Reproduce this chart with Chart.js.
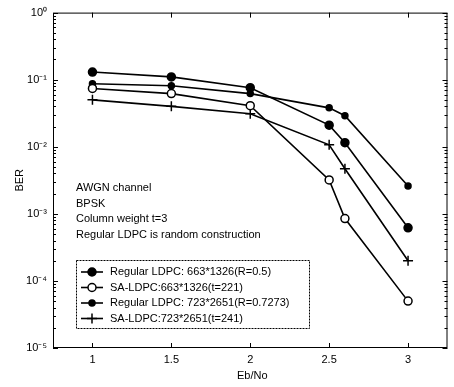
<!DOCTYPE html>
<html>
<head>
<meta charset="utf-8">
<script src="https://cdn.jsdelivr.net/npm/chart.js@4/dist/chart.umd.min.js"></script>
<style>
  html, body { margin: 0; padding: 0; background: #fff; }
  #wrap { width: 454px; height: 387px; }
</style>
</head>
<body>
<div id="wrap"><canvas id="ber"></canvas></div>
<script>
// Eb/No points and BER per curve
const ebno = [1, 1.5, 2, 2.5, 2.6, 3];
const berReg663 = [0.13, 0.11, 0.076, 0.021, 0.0115, 0.00062];
const berSA663 = [0.074, 0.062, 0.041, 0.0032, 0.00085, 0.00005];
const berReg723 = [0.087, 0.081, 0.062, 0.038, 0.029, 0.0026];
const berSA723 = [0.05, 0.04, 0.031, 0.0107, 0.0047, 0.0002];

const seriesNames = [
  "Regular LDPC: 663*1326(R=0.5)",
  "SA-LDPC:663*1326(t=221)",
  "Regular LDPC: 723*2651(R=0.7273)",
  "SA-LDPC:723*2651(t=241)"
];
const xTicks = [1, 1.5, 2, 2.5, 3];
const yTicks = [1e-5, 1e-4, 1e-3, 1e-2, 1e-1, 1];
const notes = ["AWGN channel", "BPSK", "Column weight t=3", "Regular LDPC is random construction"];

const FONT = "Liberation Sans";
const sup = { "0": "\u2070", "1": "\u00b9", "2": "\u00b2", "3": "\u00b3", "4": "\u2074", "5": "\u2075", "-": "\u207b" };
const toSup = (s) => s.split("").map((c) => sup[c] || c).join("");

const pts = (ys) => ebno.map((x, i) => ({ x: x, y: ys[i] }));

const styles = [
  { pointStyle: "circle", pointRadius: 4, pointBackgroundColor: "#000" },
  { pointStyle: "circle", pointRadius: 4, pointBackgroundColor: "#fff" },
  { pointStyle: "circle", pointRadius: 3, pointBackgroundColor: "#000" },
  { pointStyle: "cross", pointRadius: 5, pointBackgroundColor: "#000" }
];
const values = [berReg663, berSA663, berReg723, berSA723];

const datasets = values.map((v, i) => ({
  label: seriesNames[i],
  data: pts(v),
  borderColor: "#000",
  borderWidth: 1.6,
  pointBorderColor: "#000",
  pointBorderWidth: 1.5,
  tension: 0,
  ...styles[i]
}));

// box, inward ticks, axis titles, notes and legend
const decor = {
  id: "decor",
  afterDraw(chart) {
    const ctx = chart.ctx;
    const a = chart.chartArea;
    const xs = chart.scales.x, ys = chart.scales.y;
    ctx.save();
    ctx.strokeStyle = "#000";
    ctx.lineWidth = 1;
    ctx.strokeRect(a.left + 0.5, a.top + 0.5, a.right - a.left - 1, a.bottom - a.top - 1);

    ctx.beginPath();
    xTicks.forEach((t) => {
      const px = Math.round(xs.getPixelForValue(t)) + 0.5;
      ctx.moveTo(px, a.bottom); ctx.lineTo(px, a.bottom - 5);
      ctx.moveTo(px, a.top); ctx.lineTo(px, a.top + 5);
    });
    for (let d = -5; d <= 0; d++) {
      for (let k = 1; k <= 9; k++) {
        const v = k * Math.pow(10, d);
        if (v > 1) break;
        const py = Math.round(ys.getPixelForValue(v)) + 0.5;
        const len = k === 1 ? 5 : 3;
        ctx.moveTo(a.left, py); ctx.lineTo(a.left + len, py);
        ctx.moveTo(a.right, py); ctx.lineTo(a.right - len, py);
      }
    }
    ctx.stroke();

    ctx.fillStyle = "#000";
    ctx.font = "11px '" + FONT + "'";
    ctx.textAlign = "center";
    ctx.textBaseline = "middle";
    ctx.fillText("Eb/No", (a.left + a.right) / 2 + 2, 376);
    ctx.save();
    ctx.translate(20, (a.top + a.bottom) / 2);
    ctx.rotate(-Math.PI / 2);
    ctx.fillText("BER", 0, 0);
    ctx.restore();

    ctx.textAlign = "left";
    notes.forEach((n, i) => ctx.fillText(n, 76, 188 + i * 15.5));

    // legend
    const lx = 76, ly = 260, lw = 233, lh = 68;
    ctx.fillStyle = "#fff";
    ctx.fillRect(lx, ly, lw, lh);
    ctx.setLineDash([2, 1]);
    ctx.strokeStyle = "#000";
    ctx.strokeRect(lx + 0.5, ly + 0.5, lw, lh);
    ctx.setLineDash([]);
    const drawPoint = Chart.helpers && Chart.helpers.drawPoint;
    datasets.forEach((ds, i) => {
      const y = ly + 12 + i * 15.5;
      ctx.lineWidth = 1.6;
      ctx.strokeStyle = "#000";
      ctx.beginPath();
      ctx.moveTo(lx + 5, y); ctx.lineTo(lx + 27, y);
      ctx.stroke();
      ctx.fillStyle = ds.pointBackgroundColor;
      ctx.lineWidth = 1.5;
      if (drawPoint) {
        drawPoint(ctx, { pointStyle: ds.pointStyle, radius: ds.pointRadius, rotation: 0, borderWidth: 1.5 }, lx + 16, y);
      }
      ctx.fillStyle = "#000";
      ctx.font = "11px '" + FONT + "'";
      ctx.fillText(ds.label, lx + 34, y);
    });
    ctx.restore();
  }
};

new Chart(document.getElementById("ber"), {
  type: "line",
  data: { datasets: datasets },
  options: {
    responsive: true,
    maintainAspectRatio: false,
    animation: false,
    layout: { padding: { top: 12, right: 2, left: 0, bottom: 0 } },
    plugins: { legend: { display: false }, tooltip: { enabled: false } },
    scales: {
      x: {
        type: "linear",
        min: 0.75,
        max: 3.25,
        afterBuildTicks: (s) => { s.ticks = xTicks.map((v) => ({ value: v })); },
        afterFit: (s) => { s.height = 39; },
        grid: { display: false, drawTicks: false },
        border: { display: false },
        ticks: {
          color: "#000",
          padding: 5,
          font: { family: FONT, size: 11 },
          callback: (v) => String(v)
        }
      },
      y: {
        type: "logarithmic",
        min: 1e-5,
        max: 1,
        afterBuildTicks: (s) => { s.ticks = yTicks.map((v) => ({ value: v })); },
        afterFit: (s) => { s.width = 53; },
        grid: { display: false, drawTicks: false },
        border: { display: false },
        ticks: {
          color: "#000",
          padding: 6,
          font: { family: FONT, size: 11 },
          callback: (v) => "10" + toSup(String(Math.round(Math.log10(v))))
        }
      }
    }
  },
  plugins: [decor]
});
</script>
</body>
</html>
